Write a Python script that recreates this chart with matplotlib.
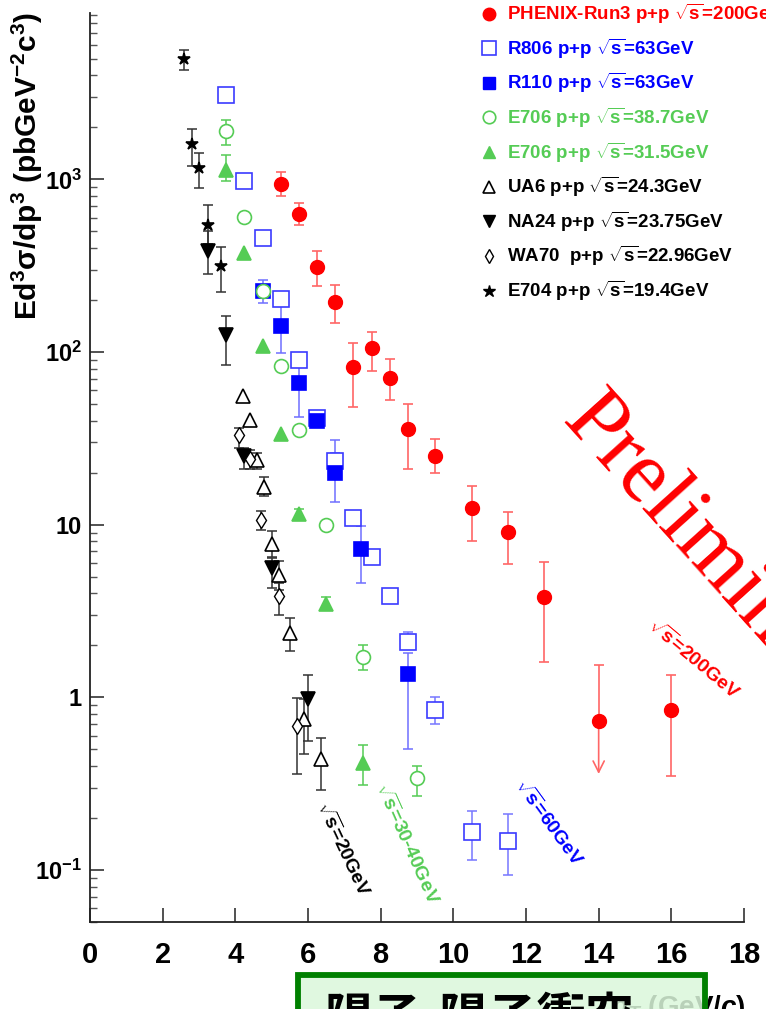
import numpy as np
import matplotlib
matplotlib.use('Agg')
import matplotlib.pyplot as plt
from matplotlib.lines import Line2D
from matplotlib.patches import Rectangle
from matplotlib.ticker import FixedLocator, LogLocator, NullFormatter

plt.rcParams['font.family'] = ['Liberation Sans', 'DejaVu Sans']
plt.rcParams['font.weight'] = 'bold'
plt.rcParams['mathtext.fontset'] = 'custom'
plt.rcParams['mathtext.rm'] = 'Liberation Sans:bold'
plt.rcParams['mathtext.bf'] = 'Liberation Sans:bold'
plt.rcParams['mathtext.it'] = 'Liberation Sans:bold:italic'
plt.rcParams['mathtext.sf'] = 'Liberation Sans:bold'

nan = np.nan

# PHENIX Run3 p+p 200 GeV
phenix_x = [5.25, 5.75, 6.25, 6.75, 7.25, 7.75, 8.25, 8.75, 9.5, 10.5, 11.5, 12.5, 14.0, 16.0]
phenix_y = [936, 627, 310, 194, 82, 105, 71, 36, 25, 12.5, 9.1, 3.8, 0.73, 0.84]
phenix_lo = [800, 542, 240, 147, 48, 78, 53, 21, 20, 8.0, 5.9, 1.6, 0.36, 0.35]
phenix_hi = [1100, 727, 383, 243, 113, 130, 91, 50, 31.5, 16.7, 11.9, 6.1, 1.53, 1.34]
phenix_limit = [False] * 12 + [True, False]

# R806 p+p 63 GeV
r806_x = [3.75, 4.25, 4.75, 5.25, 5.75, 6.25, 6.75, 7.25, 7.75, 8.25, 8.75, 9.5, 10.5, 11.5]
r806_y = [3100, 975, 455, 202, 90, 41.4, 23.3, 10.9, 6.5, 3.86, 2.09, 0.85, 0.166, 0.147]
r806_lo = [nan, nan, nan, nan, 82, 37, 20, nan, nan, 3.5, 1.9, 0.70, 0.115, 0.093]
r806_hi = [nan, nan, nan, nan, 98, 45, 26, nan, nan, 4.2, 2.4, 1.0, 0.22, 0.21]

# R110 p+p 63 GeV
r110_x = [4.75, 5.25, 5.75, 6.25, 6.75, 7.45, 8.75]
r110_y = [225, 141, 66, 39.7, 19.9, 7.2, 1.36]
r110_lo = [192, 99, 42, 37, 13.6, 4.6, 0.5]
r110_hi = [260, 189, 95, 43, 31, 9.8, 1.8]

# E706 p+p 38.7 GeV
e706a_x = [3.75, 4.25, 4.75, 5.25, 5.75, 6.5, 7.5, 9.0]
e706a_y = [1900, 602, 225, 82.6, 35.3, 9.94, 1.71, 0.341]
e706a_lo = [1590, nan, nan, nan, nan, nan, 1.45, 0.27]
e706a_hi = [2200, nan, nan, nan, nan, nan, 2.0, 0.40]

# E706 p+p 31.5 GeV
e706b_x = [3.75, 4.25, 4.75, 5.25, 5.75, 6.5, 7.5]
e706b_y = [1140, 373, 108, 33.4, 11.5, 3.47, 0.416]
e706b_lo = [975, nan, nan, nan, 10.8, 3.2, 0.31]
e706b_hi = [1380, nan, nan, nan, 12.3, 3.8, 0.53]

# UA6 p+p 24.3 GeV
ua6_x = [4.2, 4.4, 4.6, 4.8, 5.0, 5.2, 5.5, 5.9, 6.35]
ua6_y = [56, 40.3, 23.6, 16.5, 7.7, 5.1, 2.36, 0.75, 0.44]
ua6_lo = [nan, nan, 21, 14.6, 6.5, 4.2, 1.85, 0.47, 0.29]
ua6_hi = [nan, nan, 26, 18.8, 9.2, 6.2, 2.9, 0.98, 0.58]

# NA24 p+p 23.75 GeV
na24_x = [3.25, 3.75, 4.25, 5.0, 6.0]
na24_y = [383, 125, 24.9, 5.6, 0.975]
na24_lo = [282, 84, 21, 4.3, 0.56]
na24_hi = [500, 161, 28, 6.4, 1.35]

# WA70 p+p 22.96 GeV
wa70_x = [4.1, 4.4, 4.7, 5.2, 5.7]
wa70_y = [33, 24, 10.6, 3.86, 0.68]
wa70_lo = [28, 21, 9.3, 3.0, 0.36]
wa70_hi = [36.5, 27, 12, 4.6, 0.99]

# E704 p+p 19.4 GeV
e704_x = [2.6, 2.8, 3.0, 3.25, 3.6]
e704_y = [5010, 1600, 1160, 542, 314]
e704_lo = [4330, 1200, 890, 420, 222]
e704_hi = [5600, 1970, 1430, 707, 404]

legend_labels = [
    r'PHENIX-Run3 p+p $\sqrt{\mathrm{s}}$=200GeV',
    r'R806 p+p $\sqrt{\mathrm{s}}$=63GeV',
    r'R110 p+p $\sqrt{\mathrm{s}}$=63GeV',
    r'E706 p+p $\sqrt{\mathrm{s}}$=38.7GeV',
    r'E706 p+p $\sqrt{\mathrm{s}}$=31.5GeV',
    r'UA6 p+p $\sqrt{\mathrm{s}}$=24.3GeV',
    r'NA24 p+p $\sqrt{\mathrm{s}}$=23.75GeV',
    r'WA70  p+p $\sqrt{\mathrm{s}}$=22.96GeV',
    r'E704 p+p $\sqrt{\mathrm{s}}$=19.4GeV',
]

y_ticks = [0.1, 1, 10, 100, 1000]
y_ticklabels = [r'$10^{-1}$', '1', '10', r'$10^{2}$', r'$10^{3}$']
x_ticks = [0, 2, 4, 6, 8, 10, 12, 14, 16, 18]

RED = '#ff0000'
BLUE = '#0000ff'
GREEN = '#55cc55'
BLACK = '#000000'

fig = plt.figure(figsize=(7.66, 10.09), dpi=100)
ax = fig.add_axes([90 / 766, 87 / 1009, 654 / 766, 909 / 1009])


def draw(x, y, lo, hi, marker, color, ms, filled=True, ecolor=None, mew=1.2, zorder=3):
    x = np.array(x, float)
    y = np.array(y, float)
    lo = np.array(lo, float)
    hi = np.array(hi, float)
    ok = ~np.isnan(lo)
    ax.errorbar(x[ok], y[ok], yerr=[y[ok] - lo[ok], hi[ok] - y[ok]], fmt='none',
                ecolor=ecolor or color, elinewidth=1.1, capsize=3.5, capthick=1.1, zorder=zorder - 1)
    ax.plot(x, y, ls='none', marker=marker, ms=ms, mec=color, mew=mew,
            mfc=color if filled else 'white', zorder=zorder)


# phenix: one point is an upper limit (arrow down)
px = np.array(phenix_x)
py = np.array(phenix_y)
plo = np.array(phenix_lo)
phi = np.array(phenix_hi)
lim = np.array(phenix_limit)
ax.errorbar(px[~lim], py[~lim], yerr=[py[~lim] - plo[~lim], phi[~lim] - py[~lim]], fmt='none',
            ecolor='#ff6666', elinewidth=1.2, capsize=3.5, capthick=1.2, zorder=2)
ax.errorbar(px[lim], py[lim], yerr=[np.zeros(lim.sum()), phi[lim] - py[lim]], fmt='none',
            ecolor='#ff6666', elinewidth=1.2, capsize=3.5, capthick=1.2, zorder=2)
for xi, yi, li in zip(px[lim], py[lim], plo[lim]):
    ax.annotate('', xy=(xi, li), xytext=(xi, yi),
                arrowprops=dict(arrowstyle='->', color='#ff6666', lw=1.2,
                                mutation_scale=20, shrinkA=0, shrinkB=0))
ax.plot(px, py, ls='none', marker='o', ms=10, color=RED, zorder=5)

draw(r806_x, r806_y, r806_lo, r806_hi, 's', '#3b3bff', 11, filled=False, ecolor='#7777ff')
draw(r110_x, r110_y, r110_lo, r110_hi, 's', BLUE, 10, ecolor='#6f6fff')
draw(e706a_x, e706a_y, e706a_lo, e706a_hi, 'o', GREEN, 10, filled=False)
draw(e706b_x, e706b_y, e706b_lo, e706b_hi, '^', GREEN, 9.5)
draw(ua6_x, ua6_y, ua6_lo, ua6_hi, '^', BLACK, 10, filled=False, ecolor='#333333')
draw(na24_x, na24_y, na24_lo, na24_hi, 'v', BLACK, 9.5, ecolor='#333333')
draw(wa70_x, wa70_y, wa70_lo, wa70_hi, 'd', BLACK, 8, filled=False, ecolor='#333333', mew=1.0)
draw(e704_x, e704_y, e704_lo, e704_hi, '*', BLACK, 9, ecolor='#333333')

ax.set_yscale('log')
ax.set_xlim(0, 18)
ax.set_ylim(0.05, 9200)
for s in ['top', 'right']:
    ax.spines[s].set_visible(False)
for s in ['left', 'bottom']:
    ax.spines[s].set_linewidth(1.3)
    ax.spines[s].set_color('#222222')

ax.set_xticks(x_ticks)
ax.set_xticklabels([str(v) for v in x_ticks], fontsize=21, fontweight='bold')
ax.yaxis.set_major_locator(FixedLocator(y_ticks))
ax.set_yticklabels(y_ticklabels, fontsize=17, fontweight='bold')
ax.yaxis.set_minor_locator(LogLocator(base=10, subs=np.arange(2, 10), numticks=20))
ax.yaxis.set_minor_formatter(NullFormatter())
ax.tick_params(axis='both', which='major', direction='in', length=10, width=1.2, color='#333333')
ax.tick_params(axis='y', which='minor', direction='in', length=5, width=1.0, color='#555555')
ax.tick_params(axis='x', pad=14)
ax.tick_params(axis='y', pad=6)

ax.set_ylabel(r'Ed$^{3}\mathrm{\sigma}$/dp$^{3}$ (pbGeV$^{-2}$c$^{3}$)', fontsize=21.5, fontweight='bold')
ax.yaxis.set_label_coords(-0.069, 0.832)
ax.set_xlabel(r'$p_{T}$ (GeV/$c$)', fontsize=20, fontweight='bold')
ax.xaxis.set_label_coords(1.003, -0.078)
ax.xaxis.label.set_ha('right')

# energy labels
lab = dict(fontsize=14, fontweight='bold', ha='center', va='center', rotation_mode='anchor')
ax.text(6.96, 0.132, r'$\sqrt{\mathrm{s}}$=20GeV', rotation=-65, color=BLACK, **lab)
ax.text(8.73, 0.142, r'$\sqrt{\mathrm{s}}$=30-40GeV', rotation=-66, color=GREEN, **lab)
ax.text(12.63, 0.187, r'$\sqrt{\mathrm{s}}$=60GeV', rotation=-54, color=BLUE, **lab)
ax.text(16.62, 1.66, r'$\sqrt{\mathrm{s}}$=200GeV', rotation=-40, color=RED, **lab)
ax.text(12.94, 39.7, 'Preliminary', rotation=-48, color=RED, fontsize=64,
        family='Liberation Serif', fontweight='normal', ha='left', va='baseline',
        rotation_mode='anchor', clip_on=False)

handles = [
    Line2D([], [], ls='none', marker='o', ms=9, color=RED),
    Line2D([], [], ls='none', marker='s', ms=10, mec='#3b3bff', mfc='white', mew=1.2),
    Line2D([], [], ls='none', marker='s', ms=9, color=BLUE),
    Line2D([], [], ls='none', marker='o', ms=9, mec=GREEN, mfc='white', mew=1.2),
    Line2D([], [], ls='none', marker='^', ms=9, color=GREEN),
    Line2D([], [], ls='none', marker='^', ms=9, mec=BLACK, mfc='white', mew=1.2),
    Line2D([], [], ls='none', marker='v', ms=9, color=BLACK),
    Line2D([], [], ls='none', marker='d', ms=7, mec=BLACK, mfc='white', mew=1.0),
    Line2D([], [], ls='none', marker='*', ms=9, color=BLACK),
]
leg_colors = [RED, BLUE, BLUE, GREEN, GREEN, BLACK, BLACK, BLACK, BLACK]
leg = fig.legend(handles, legend_labels, loc='upper left', bbox_to_anchor=(481 / 766, 1 - 2 / 1009),
                 frameon=False, handlelength=0.9, handletextpad=0.5,
                 labelspacing=0.56, borderpad=0, borderaxespad=0, labelcolor=leg_colors,
                 prop={'weight': 'bold', 'size': 13.5})

# green caption box at the bottom
box = Rectangle((298 / 766, -0.05), 407 / 766, 0.05 + (1009 - 975) / 1009, transform=fig.transFigure,
                facecolor=(0.86, 0.97, 0.86, 0.85), edgecolor='#008000', lw=4.2, zorder=10)
fig.patches.append(box)
fig.text(325 / 766, 1 - 994 / 1009, '陽子-陽子衝突', fontsize=35, fontweight='bold',
         family=['Noto Sans CJK JP', 'DejaVu Sans'], ha='left', va='top', zorder=11)

fig.savefig('out.png', dpi=100)
